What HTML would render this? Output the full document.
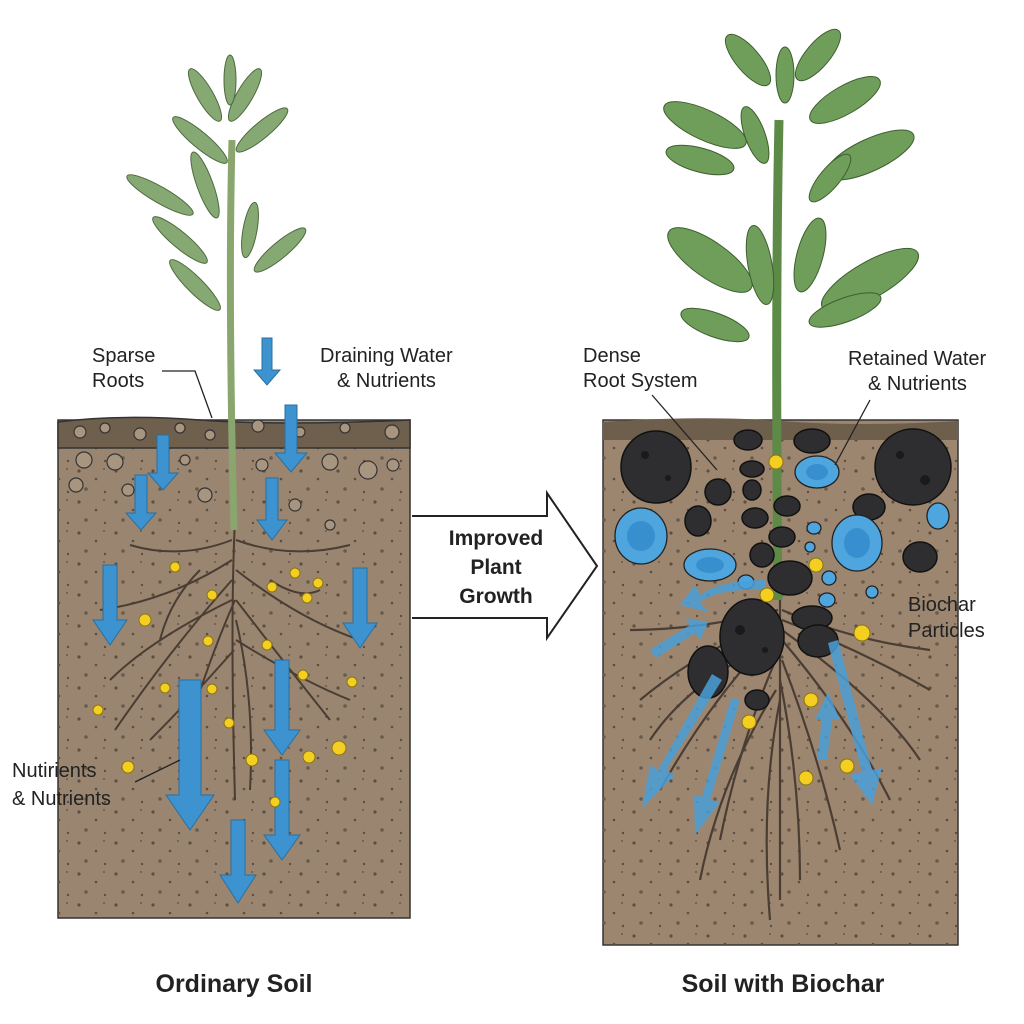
<!DOCTYPE html>
<html><head><meta charset="utf-8"><style>
body{margin:0;background:#fff}
svg{display:block}
text{font-family:"Liberation Sans",sans-serif;fill:#222}
</style></head><body>
<svg width="1024" height="1024" viewBox="0 0 1024 1024">
<defs>
<pattern id="sp" width="37" height="31" patternUnits="userSpaceOnUse">
<circle cx="5" cy="6" r="1.6" fill="#5e4e40"/><circle cx="22" cy="14" r="1.3" fill="#5e4e40"/><circle cx="12" cy="24" r="1.8" fill="#6a5a4a"/><circle cx="31" cy="27" r="1.2" fill="#5e4e40"/><circle cx="30" cy="4" r="1" fill="#6a5a4a"/>
</pattern>
</defs>
<rect width="1024" height="1024" fill="#fff"/>
<!-- LEFT soil -->
<rect x="58" y="420" width="352" height="498" fill="#9a8670" stroke="#333" stroke-width="1.5"/>
<rect x="58" y="448" width="352" height="470" fill="url(#sp)"/>
<path d="M58 422 Q120 414 200 420 T410 420 V448 H58Z" fill="#6f5f4d" stroke="#333" stroke-width="1.5"/>
<g fill="#a89580" stroke="#333" stroke-width="1.2">
<circle cx="80" cy="432" r="6"/><circle cx="105" cy="428" r="5"/><circle cx="140" cy="434" r="6"/><circle cx="180" cy="428" r="5"/><circle cx="210" cy="435" r="5"/><circle cx="258" cy="426" r="6"/><circle cx="300" cy="432" r="5"/><circle cx="345" cy="428" r="5"/><circle cx="392" cy="432" r="7"/>
<circle cx="84" cy="460" r="8"/><circle cx="115" cy="462" r="8"/><circle cx="76" cy="485" r="7"/><circle cx="128" cy="490" r="6"/><circle cx="185" cy="460" r="5"/><circle cx="205" cy="495" r="7"/><circle cx="262" cy="465" r="6"/><circle cx="330" cy="462" r="8"/><circle cx="368" cy="470" r="9"/><circle cx="393" cy="465" r="6"/><circle cx="295" cy="505" r="6"/><circle cx="330" cy="525" r="5"/>
</g>
<!-- left roots -->
<g stroke="#4a3d33" stroke-width="2" fill="none">
<path d="M235 520 Q230 620 235 800"/><path d="M232 540 Q180 560 130 545"/><path d="M232 560 Q170 600 100 610"/><path d="M232 580 Q170 650 115 730"/><path d="M235 600 Q200 680 180 760"/><path d="M236 540 Q290 560 350 545"/><path d="M236 570 Q300 620 360 640"/><path d="M236 600 Q290 670 330 720"/><path d="M236 620 Q255 700 250 790"/><path d="M200 570 Q170 600 160 640"/><path d="M270 580 Q300 600 320 590"/><path d="M232 600 Q150 640 110 680"/><path d="M236 640 Q300 680 350 700"/><path d="M234 650 Q190 700 150 740"/>
</g>
<!-- left stem -->
<path d="M232 140 Q228 300 234 530" stroke="#8aa56e" stroke-width="7" fill="none"/>
<g fill="#86a872" stroke="#4d6a3e" stroke-width="1">
<ellipse cx="205" cy="95" rx="8" ry="30" transform="rotate(-30 205 95)"/><ellipse cx="245" cy="95" rx="8" ry="30" transform="rotate(30 245 95)"/><ellipse cx="200" cy="140" rx="8" ry="35" transform="rotate(-50 200 140)"/><ellipse cx="262" cy="130" rx="8" ry="33" transform="rotate(50 262 130)"/><ellipse cx="160" cy="195" rx="8" ry="38" transform="rotate(-60 160 195)"/><ellipse cx="205" cy="185" rx="8" ry="35" transform="rotate(-20 205 185)"/><ellipse cx="180" cy="240" rx="8" ry="35" transform="rotate(-50 180 240)"/><ellipse cx="280" cy="250" rx="8" ry="33" transform="rotate(50 280 250)"/><ellipse cx="195" cy="285" rx="8" ry="35" transform="rotate(-45 195 285)"/><ellipse cx="250" cy="230" rx="7" ry="28" transform="rotate(10 250 230)"/><ellipse cx="230" cy="80" rx="6" ry="25"/>
</g>
<!-- blue arrows left -->
<g fill="#3d93d0" stroke="#2a6f9e" stroke-width="1">
<path d="M262 338h10v32h8l-13 15-13-15h8z"/>
<path d="M285 405h12v48h10l-16 19-16-19h10z"/>
<path d="M157 435h12v38h9l-15 17-15-17h9z"/>
<path d="M135 475h12v38h9l-15 17-15-17h9z"/>
<path d="M266 478h12v42h9l-15 20-15-20h9z"/>
<path d="M103 565h14v55h10l-17 25-17-25h10z"/>
<path d="M353 568h14v55h10l-17 25-17-25h10z"/>
<path d="M179 680h22v115h13l-24 35-24-35h13z"/>
<path d="M275 660h14v70h11l-18 25-18-25h11z"/>
<path d="M275 760h14v75h11l-18 25-18-25h11z"/>
<path d="M231 820h14v55h11l-18 28-18-28h11z"/>
</g>
<g fill="#f4cf22" stroke="#8a7410" stroke-width="1">
<circle cx="175" cy="567" r="5"/><circle cx="212" cy="595" r="5"/><circle cx="295" cy="573" r="5"/><circle cx="318" cy="583" r="5"/><circle cx="272" cy="587" r="5"/><circle cx="307" cy="598" r="5"/><circle cx="145" cy="620" r="6"/><circle cx="208" cy="641" r="5"/><circle cx="267" cy="645" r="5"/><circle cx="303" cy="675" r="5"/><circle cx="352" cy="682" r="5"/><circle cx="165" cy="688" r="5"/><circle cx="212" cy="689" r="5"/><circle cx="98" cy="710" r="5"/><circle cx="229" cy="723" r="5"/><circle cx="252" cy="760" r="6"/><circle cx="309" cy="757" r="6"/><circle cx="339" cy="748" r="7"/><circle cx="128" cy="767" r="6"/><circle cx="275" cy="802" r="5"/>
</g>
<!-- labels left -->
<text x="92" y="362" font-size="20">Sparse</text><text x="92" y="387" font-size="20">Roots</text>
<path d="M162 371 H195 L212 418" stroke="#222" fill="none" stroke-width="1.3"/>
<text x="320" y="362" font-size="20">Draining Water</text><text x="337" y="387" font-size="20">&amp; Nutrients</text>
<text x="12" y="777" font-size="20">Nutirients</text><text x="12" y="805" font-size="20">&amp; Nutrients</text>
<path d="M135 782 L180 760" stroke="#222" stroke-width="1.3"/>
<text x="234" y="992" font-size="25" font-weight="bold" text-anchor="middle">Ordinary Soil</text>
<!-- middle arrow -->
<path d="M412 516 H547 V493 L597 566 L547 638 V618 H412" fill="#fff" stroke="#222" stroke-width="2"/>
<text x="496" y="545" font-size="21" font-weight="bold" text-anchor="middle">Improved</text>
<text x="496" y="574" font-size="21" font-weight="bold" text-anchor="middle">Plant</text>
<text x="496" y="603" font-size="21" font-weight="bold" text-anchor="middle">Growth</text>
<!-- RIGHT soil -->
<rect x="603" y="420" width="355" height="525" fill="#9c8670" stroke="#333" stroke-width="1.5"/>
<rect x="603" y="440" width="355" height="505" fill="url(#sp)"/>
<path d="M603 422 Q700 415 780 421 T958 421 V440 H603Z" fill="#6e5e4c"/>
<!-- roots right -->
<g stroke="#4a3d33" stroke-width="2.2" fill="none">
<path d="M780 600 V900"/><path d="M778 620 Q700 650 640 700"/><path d="M778 630 Q710 700 660 790"/><path d="M780 650 Q740 740 720 840"/><path d="M782 620 Q860 650 930 690"/><path d="M782 640 Q850 720 890 800"/><path d="M782 660 Q820 760 840 850"/><path d="M780 700 Q760 800 770 920"/><path d="M778 610 Q700 630 630 630"/><path d="M782 610 Q850 640 930 650"/><path d="M780 680 Q800 780 800 880"/><path d="M776 690 Q720 780 700 880"/><path d="M778 640 Q690 680 650 740"/><path d="M782 630 Q880 700 920 760"/>
</g>
<path d="M779 120 Q775 300 778 600" stroke="#5e8a48" stroke-width="9" fill="none"/>
<g fill="#6f9e5a" stroke="#3e5e30" stroke-width="1">
<ellipse cx="748" cy="60" rx="12" ry="32" transform="rotate(-40 748 60)"/><ellipse cx="818" cy="55" rx="12" ry="32" transform="rotate(40 818 55)"/><ellipse cx="785" cy="75" rx="9" ry="28"/>
<ellipse cx="705" cy="125" rx="15" ry="45" transform="rotate(-65 705 125)"/><ellipse cx="845" cy="100" rx="14" ry="40" transform="rotate(60 845 100)"/>
<ellipse cx="755" cy="135" rx="10" ry="30" transform="rotate(-20 755 135)"/>
<ellipse cx="700" cy="160" rx="12" ry="35" transform="rotate(-75 700 160)"/><ellipse cx="870" cy="155" rx="16" ry="48" transform="rotate(65 870 155)"/>
<ellipse cx="830" cy="178" rx="10" ry="30" transform="rotate(40 830 178)"/>
<ellipse cx="710" cy="260" rx="18" ry="50" transform="rotate(-55 710 260)"/><ellipse cx="810" cy="255" rx="13" ry="38" transform="rotate(15 810 255)"/>
<ellipse cx="760" cy="265" rx="12" ry="40" transform="rotate(-10 760 265)"/><ellipse cx="870" cy="280" rx="18" ry="55" transform="rotate(60 870 280)"/>
<ellipse cx="715" cy="325" rx="12" ry="36" transform="rotate(-70 715 325)"/><ellipse cx="845" cy="310" rx="12" ry="38" transform="rotate(70 845 310)"/>
</g>
<!-- biochar -->
<g fill="#2e2e30" stroke="#111" stroke-width="1.5">
<ellipse cx="656" cy="467" rx="35" ry="36"/><ellipse cx="913" cy="467" rx="38" ry="38"/><ellipse cx="748" cy="440" rx="14" ry="10"/><ellipse cx="812" cy="441" rx="18" ry="12"/><ellipse cx="718" cy="492" rx="13" ry="13"/><ellipse cx="752" cy="469" rx="12" ry="8"/><ellipse cx="752" cy="490" rx="9" ry="10"/><ellipse cx="698" cy="521" rx="13" ry="15"/><ellipse cx="755" cy="518" rx="13" ry="10"/><ellipse cx="787" cy="506" rx="13" ry="10"/><ellipse cx="869" cy="507" rx="16" ry="13"/><ellipse cx="782" cy="537" rx="13" ry="10"/><ellipse cx="762" cy="555" rx="12" ry="12"/><ellipse cx="920" cy="557" rx="17" ry="15"/><ellipse cx="790" cy="578" rx="22" ry="17"/><ellipse cx="752" cy="637" rx="32" ry="38"/><ellipse cx="812" cy="618" rx="20" ry="12"/><ellipse cx="818" cy="641" rx="20" ry="16"/><ellipse cx="708" cy="672" rx="20" ry="26"/><ellipse cx="757" cy="700" rx="12" ry="10"/>
</g>
<g fill="#1a1a1a">
<circle cx="645" cy="455" r="4"/><circle cx="668" cy="478" r="3"/><circle cx="900" cy="455" r="4"/><circle cx="925" cy="480" r="5"/><circle cx="740" cy="630" r="5"/><circle cx="765" cy="650" r="3"/>
</g>
<g fill="#4fa6df" stroke="#222" stroke-width="1.3">
<ellipse cx="817" cy="472" rx="22" ry="16"/><ellipse cx="641" cy="536" rx="26" ry="28"/><ellipse cx="710" cy="565" rx="26" ry="16"/><ellipse cx="857" cy="543" rx="25" ry="28"/><ellipse cx="938" cy="516" rx="11" ry="13"/><ellipse cx="746" cy="582" rx="8" ry="7"/><ellipse cx="814" cy="528" rx="7" ry="6"/><ellipse cx="810" cy="547" rx="5" ry="5"/><ellipse cx="829" cy="578" rx="7" ry="7"/><ellipse cx="827" cy="600" rx="8" ry="7"/><ellipse cx="872" cy="592" rx="6" ry="6"/>
</g>
<g fill="#2f86c8" opacity="0.7">
<ellipse cx="641" cy="536" rx="14" ry="15"/><ellipse cx="857" cy="543" rx="13" ry="15"/><ellipse cx="710" cy="565" rx="14" ry="8"/><ellipse cx="817" cy="472" rx="11" ry="8"/>
</g>
<!-- blue flow arrows right -->
<g fill="#4a9fd8" opacity="0.85">
<path d="M765 590 Q720 588 700 602 L708 612 L680 605 L695 585 L700 595 Q720 580 765 580Z"/>
<path d="M650 650 L690 625 L686 618 L708 622 L700 640 L695 633 L656 658Z"/>
<path d="M722 680 L666 770 L675 775 L642 808 L650 765 L658 770 L712 674Z"/>
<path d="M740 700 L710 800 L720 802 L695 835 L694 795 L702 797 L731 698Z"/>
<path d="M838 640 L872 770 L882 768 L872 805 L850 775 L862 772 L828 643Z"/>
<path d="M817 760 L822 720 L815 720 L828 692 L840 720 L832 720 L827 760Z"/>
</g>
<g fill="#f4cf22" stroke="#8a7410" stroke-width="1">
<circle cx="776" cy="462" r="7"/><circle cx="816" cy="565" r="7"/><circle cx="767" cy="595" r="7"/><circle cx="862" cy="633" r="8"/><circle cx="811" cy="700" r="7"/><circle cx="749" cy="722" r="7"/><circle cx="847" cy="766" r="7"/><circle cx="806" cy="778" r="7"/>
</g>
<!-- labels right -->
<text x="583" y="362" font-size="20">Dense</text><text x="583" y="387" font-size="20">Root System</text>
<path d="M652 395 L717 470" stroke="#222" stroke-width="1.3"/>
<text x="848" y="365" font-size="20">Retained Water</text><text x="868" y="390" font-size="20">&amp; Nutrients</text>
<path d="M870 400 L835 465" stroke="#222" stroke-width="1.3"/>
<text x="908" y="611" font-size="20">Biochar</text><text x="908" y="637" font-size="20">Particles</text>
<text x="783" y="992" font-size="25" font-weight="bold" text-anchor="middle">Soil with Biochar</text>
</svg>
</body></html>
